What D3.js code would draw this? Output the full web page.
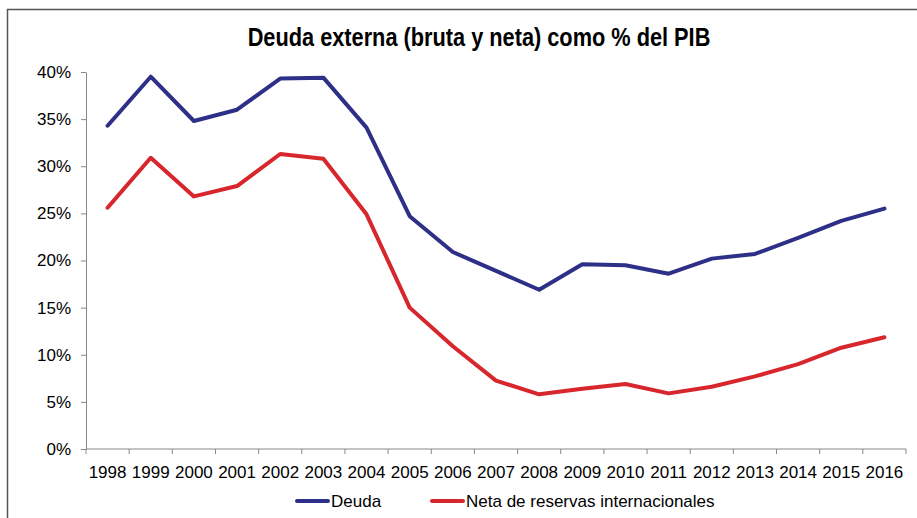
<!DOCTYPE html>
<html>
<head>
<meta charset="utf-8">
<script src="https://cdn.jsdelivr.net/npm/d3@7"></script>
<style>
    body { margin: 0; background: #fff; }
    text { font-family: "Liberation Sans", Arial, sans-serif; fill: #000; }
    .title { font-weight: bold; }
</style>
</head>
<body>
<script>
//chart data
var years = ["1998","1999","2000","2001","2002","2003","2004","2005","2006","2007",
             "2008","2009","2010","2011","2012","2013","2014","2015","2016"];
var deuda = [34.3, 39.5, 34.8, 36.0, 39.3, 39.4, 34.1, 24.7, 20.9, 18.9,
             16.9, 19.6, 19.5, 18.6, 20.2, 20.7, 22.4, 24.2, 25.5];
var neta = [25.6, 30.9, 26.8, 27.9, 31.3, 30.8, 24.9, 15.0, 10.9, 7.25,
            5.8, 6.4, 6.9, 5.9, 6.6, 7.7, 9.0, 10.75, 11.85];
var yTicks = [0, 5, 10, 15, 20, 25, 30, 35, 40];
var seriesNames = ["Deuda", "Neta de reservas internacionales"];

(function(){
    var width = 917,
        height = 518;

    var svg = d3.select("body")
        .append("svg")
        .attr("width", width)
        .attr("height", height);

    //outer frame
    svg.append("rect")
        .attr("x", 7.5)
        .attr("y", 9.5)
        .attr("width", 930)
        .attr("height", 530)
        .attr("fill", "none")
        .attr("stroke", "#555")
        .attr("stroke-width", 1.5);

    //title, squeezed horizontally to mimic a narrow bold face
    svg.append("text")
        .attr("class", "title")
        .attr("transform", "translate(479,46) scale(0.87,1)")
        .attr("text-anchor", "middle")
        .style("font-size", "25px")
        .text("Deuda externa (bruta y neta) como % del PIB");

    var x = d3.scaleBand()
        .domain(years)
        .range([86, 906]);

    var y = d3.scaleLinear()
        .domain([0, 40])
        .range([449, 72]);

    //y axis
    var yAxis = svg.append("g")
        .attr("transform", "translate(86,0)")
        .call(d3.axisLeft(y)
            .tickValues(yTicks)
            .tickSize(5)
            .tickPadding(10)
            .tickSizeOuter(0)
            .tickFormat(function(d){ return d + "%"; }));
    yAxis.selectAll("text").style("font-size", "17px");

    //x axis, ticks between categories
    var xAxis = svg.append("g")
        .attr("transform", "translate(0,449)");
    xAxis.append("line")
        .attr("x1", 86).attr("x2", 906)
        .attr("stroke", "#888");
    xAxis.selectAll(".xtick")
        .data(years.concat(["end"]))
        .enter()
        .append("line")
        .attr("x1", function(d, i){ return 86 + i * x.step(); })
        .attr("x2", function(d, i){ return 86 + i * x.step(); })
        .attr("y1", 0).attr("y2", 5)
        .attr("stroke", "#888");
    xAxis.selectAll(".xlab")
        .data(years)
        .enter()
        .append("text")
        .attr("x", function(d){ return x(d) + x.bandwidth() / 2; })
        .attr("y", 29)
        .attr("text-anchor", "middle")
        .style("font-size", "17px")
        .text(function(d){ return d; });

    svg.selectAll(".domain, .tick line").attr("stroke", "#888");

    //lines
    var colors = ["#2E3088", "#D8262D"];
    var line = d3.line()
        .x(function(d, i){ return x(years[i]) + x.bandwidth() / 2; })
        .y(function(d){ return y(d); });

    [deuda, neta].forEach(function(s, k){
        svg.append("path")
            .datum(s)
            .attr("d", line)
            .attr("fill", "none")
            .attr("stroke", colors[k])
            .attr("stroke-width", 4)
            .attr("stroke-linejoin", "round")
            .attr("stroke-linecap", "round");
    });

    //legend
    var legendX = [297, 432];
    seriesNames.forEach(function(name, k){
        svg.append("line")
            .attr("x1", legendX[k]).attr("x2", legendX[k] + 31)
            .attr("y1", 501).attr("y2", 501)
            .attr("stroke", colors[k])
            .attr("stroke-width", 4)
            .attr("stroke-linecap", "round");
        svg.append("text")
            .attr("x", legendX[k] + 34)
            .attr("y", 507)
            .style("font-size", "17px")
            .text(name);
    });
})();
</script>
</body>
</html>
